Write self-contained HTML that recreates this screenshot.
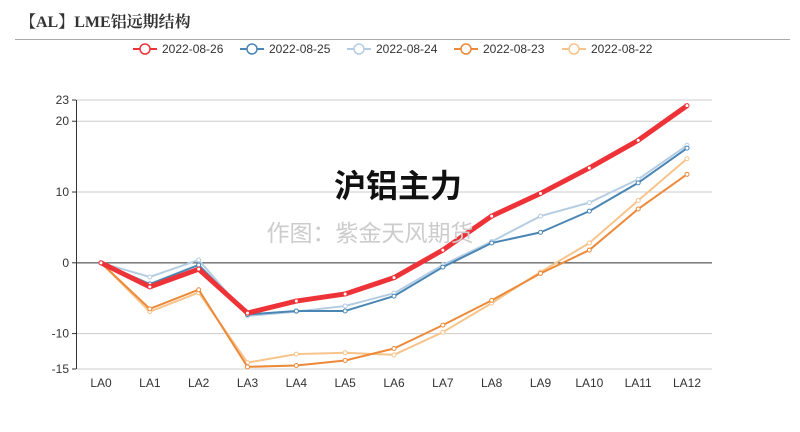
<!DOCTYPE html>
<html><head><meta charset="utf-8"><style>
body{margin:0;background:#fff;width:800px;height:427px;overflow:hidden;font-family:"Liberation Sans","Noto Sans CJK SC",sans-serif}
</style></head><body>
<svg width="800" height="427" id="c">
<text x="20" y="27" font-family="'Liberation Serif','Noto Serif CJK SC',serif" font-weight="bold" font-size="16" fill="#333">【AL】LME铝远期结构</text>
<line x1="15" y1="39.5" x2="790" y2="39.5" stroke="#aaa"/>
<g id="legend"></g>
<g id="grid"></g>
<g id="series"></g>
<text x="398" y="197" text-anchor="middle" font-size="32" font-weight="bold" fill="#111" font-family="'Noto Sans CJK SC',sans-serif">沪铝主力</text>
<text x="370" y="241" text-anchor="middle" font-size="23" fill="#ccc" font-family="'Noto Sans CJK SC',sans-serif">作图：紫金天风期货</text>
</svg>
<script>
const categories=["LA0","LA1","LA2","LA3","LA4","LA5","LA6","LA7","LA8","LA9","LA10","LA11","LA12"];
const seriesNames=["2022-08-26","2022-08-25","2022-08-24","2022-08-23","2022-08-22"];
const s0826=[0,-3.4,-0.9,-7.1,-5.4,-4.4,-2.1,1.8,6.6,9.8,13.4,17.3,22.2];
const s0825=[0,-3.0,-0.3,-7.3,-6.8,-6.8,-4.7,-0.6,2.8,4.3,7.3,11.3,16.2];
const s0824=[0,-2.0,0.4,-7.5,-6.9,-6.1,-4.3,-0.3,3.0,6.6,8.5,11.8,16.6];
const s0823=[0,-6.5,-3.8,-14.7,-14.5,-13.8,-12.1,-8.8,-5.3,-1.5,1.8,7.6,12.5];
const s0822=[0,-6.9,-4.2,-14.1,-12.9,-12.7,-13.0,-9.8,-5.7,-1.3,2.8,8.8,14.7];
const yTicks=[23,20,10,0,-10,-15];
const NS="http://www.w3.org/2000/svg";
const colors=["#ee3338","#4a86b4","#b5cde3","#ec8a3a","#f7c48c"];
const widths=[5,2,2,2,2];
const data=[s0826,s0825,s0824,s0823,s0822];
const x0=76,x1=712,yTop=100,yBot=369;
const xs=i=>101+i*(687-101)/(categories.length-1);
const ys=v=>yTop+(23-v)*(yBot-yTop)/38;
function mk(t,a,p){const e=document.createElementNS(NS,t);for(const k in a)e.setAttribute(k,a[k]);p.appendChild(e);return e;}
const grid=document.getElementById('grid');
yTicks.forEach(t=>{
 const y=ys(t);
 const l=mk('line',{x1:x0,x2:x1,y1:y,y2:y,stroke:t===0?'#333':'#ccc'},grid);
 
 
 mk('line',{x1:x0-4,x2:x0,y1:y,y2:y,stroke:'#333'},grid);
 const tx=mk('text',{x:x0-7,y:y+4,'text-anchor':'end','font-size':12,fill:'#333'},grid);tx.textContent=t;
 
 
});
mk('line',{x1:x0+.5,x2:x0+.5,y1:yTop,y2:yBot,stroke:'#333'},grid);
categories.forEach((c,i)=>{
 const tx=mk('text',{x:xs(i),y:387,'text-anchor':'middle','font-size':12,fill:'#333'},grid);tx.textContent=c;
 
 
});
const sg=document.getElementById('series');
for(let k=data.length-1;k>=0;k--){
 const g=mk('g',{},sg);
 
 
 mk('polyline',{points:data[k].map((v,i)=>xs(i)+','+ys(v)).join(' '),fill:'none',stroke:colors[k],'stroke-width':widths[k],'stroke-linejoin':'round'},g);
 data[k].forEach((v,i)=>{const p=mk('circle',{cx:xs(i),cy:ys(v),r:2,fill:'#fff',stroke:colors[k],'stroke-width':1},g);
  
  });
}
const lg=document.getElementById('legend');
const lx=[133,240,347,454,562];
seriesNames.forEach((n,k)=>{
 const g=mk('g',{},lg);
 
 
 mk('line',{x1:lx[k],x2:lx[k]+24,y1:49,y2:49,stroke:colors[k],'stroke-width':2},g);
 mk('circle',{cx:lx[k]+12,cy:49,r:5,fill:'#fff',stroke:colors[k],'stroke-width':1.5},g);
 const t=mk('text',{x:lx[k]+29,y:53,'font-size':12,fill:'#333'},g);t.textContent=n;
});
</script>
</body></html>
